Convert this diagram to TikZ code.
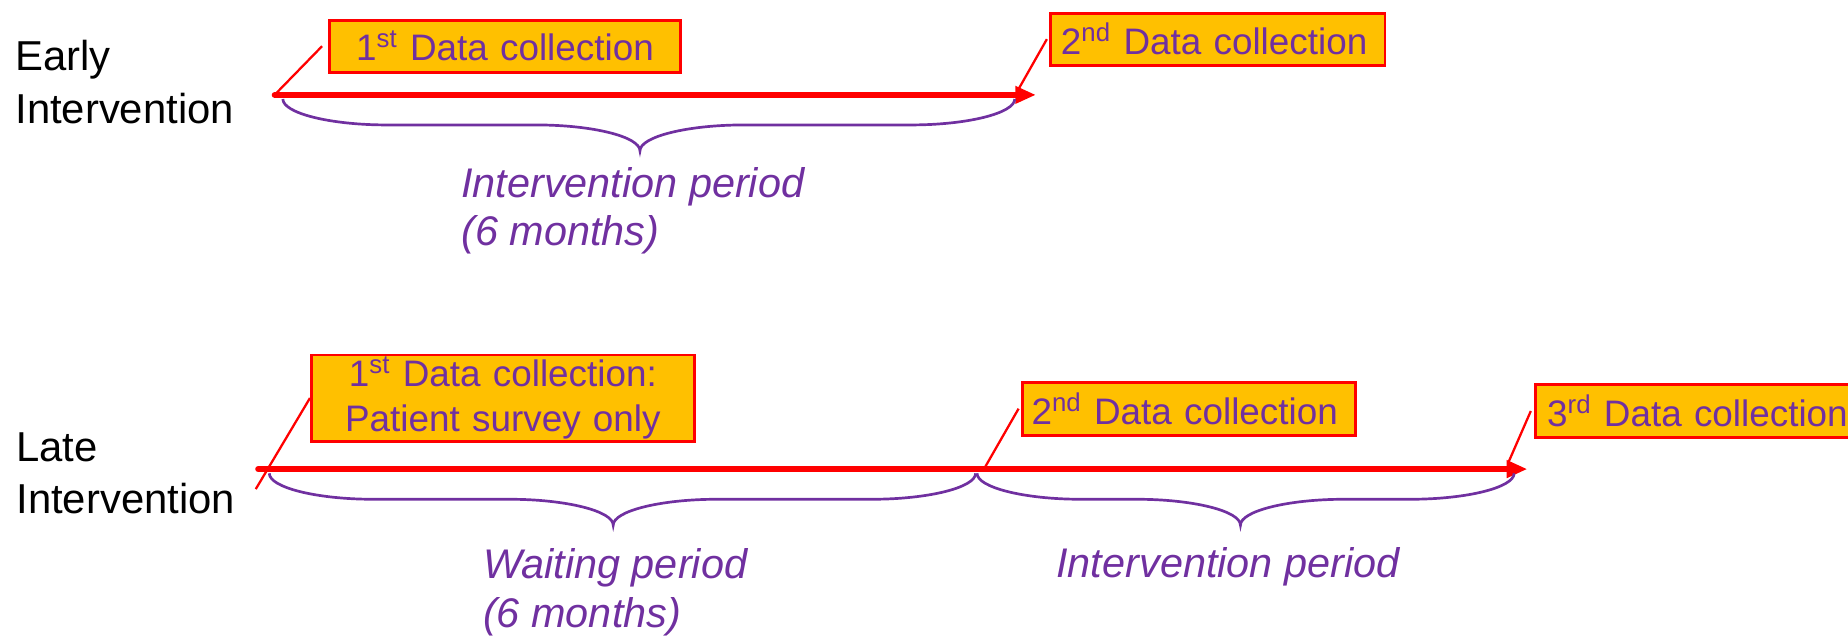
\documentclass[tikz,border=0pt]{standalone}
\usepackage{fontspec}
\setmainfont{Liberation Sans}
\usetikzlibrary{arrows.meta}
\definecolor{pptred}{HTML}{FF0000}
\definecolor{pptorange}{HTML}{FFC000}
\definecolor{pptpurple}{HTML}{7030A0}
\tikzset{
  datacoll/.style={draw=pptred, fill=pptorange, line width=1.4pt, text=pptpurple,
    font=\fontsize{17.8}{21.5}\selectfont, anchor=north west, inner xsep=0pt, inner ysep=0pt},
  timeline/.style={pptred, line width=2.8pt, line cap=round, -{Triangle[length=10pt,width=8pt]}},
  callout/.style={pptred, line width=1.1pt},
  periodbrace/.style={pptpurple, line width=1.3pt},
  grouplbl/.style={anchor=base west, align=left, inner sep=0pt, font=\fontsize{20.2}{25.5}\selectfont},
  periodlbl/.style={grouplbl, text=pptpurple, font=\fontsize{20}{23.2}\selectfont\itshape}
}
% curly brace under a period: left end, tip, right end, top
\newcommand{\timebrace}[4]{%
  \draw[periodbrace] (#1,#4) .. controls (#1,#4+12) and (#1+40,#4+22) .. (#1+88,#4+22)
    -- (#2-88,#4+22) .. controls (#2-40,#4+22) and (#2,#4+32) .. (#2,#4+44)
    .. controls (#2,#4+32) and (#2+40,#4+22) .. (#2+88,#4+22)
    -- (#3-88,#4+22) .. controls (#3-40,#4+22) and (#3,#4+12) .. (#3,#4);
}
\begin{document}
\begin{tikzpicture}[x=0.02cm, y=-0.02cm]
\useasboundingbox (0,0) rectangle (1568,539);
% early intervention
\node[grouplbl] (early) at (12.7,105) {Early\\Intervention};
\coordinate (es) at (233,80.5);
\coordinate (ee) at (879,80.5);
\coordinate (ec2) at (864,76);
\draw[timeline] (es) -- (ee);
\node[datacoll, text width=5.95cm, minimum height=0.88cm, align=center] (eb1) at (278.5,16) {1\textsuperscript{st} Data collection};
\node[datacoll, text width=5.32cm, inner xsep=0.18cm, minimum height=0.88cm, align=left] (eb2) at (890,10) {2\textsuperscript{nd} Data collection};
\draw[callout] ([xshift=-3pt]eb1.west) -- (es);
\draw[callout] ([xshift=-1pt]eb2.west) -- (ec2);
\timebrace{240}{543}{861}{84}
\node[periodlbl] (eper) at (391,208) {Intervention period\\(6 months)};

% late intervention
\node[grouplbl] (late) at (13.6,436) {Late\\Intervention};
\coordinate (ls) at (219,398);
\coordinate (le) at (1296,398);
\coordinate (lc1) at (217,415);
\coordinate (lc2) at (836,396);
\coordinate (lc3) at (1280,392);
\draw[timeline] (ls) -- (le);
\node[datacoll, text width=6.5cm, minimum height=1.46cm, align=center] (lb1) at (263,300) {1\textsuperscript{st} Data collection:\\Patient survey only};
\node[datacoll, text width=5.34cm, inner xsep=0.16cm, minimum height=0.9cm, align=left] (lb2) at (866,323) {2\textsuperscript{nd} Data collection};
\node[datacoll, text width=5.3cm, inner xsep=0.2cm, minimum height=0.9cm, align=left] (lb3) at (1301.5,325) {3\textsuperscript{rd} Data collection};
\draw[callout] (lb1.west) -- (lc1);
\draw[callout] ([xshift=-1pt]lb2.west) -- (lc2);
\draw[callout] ([xshift=-1.5pt]lb3.west) -- (lc3);
\timebrace{228.5}{520.3}{827.8}{401.6}
\timebrace{829}{1052.5}{1284.7}{401.6}
\node[periodlbl] (wait) at (409.6,532) {Waiting period\\(6 months)};
\node[periodlbl] (lper) at (896,490) {Intervention period};
\end{tikzpicture}
\end{document}
